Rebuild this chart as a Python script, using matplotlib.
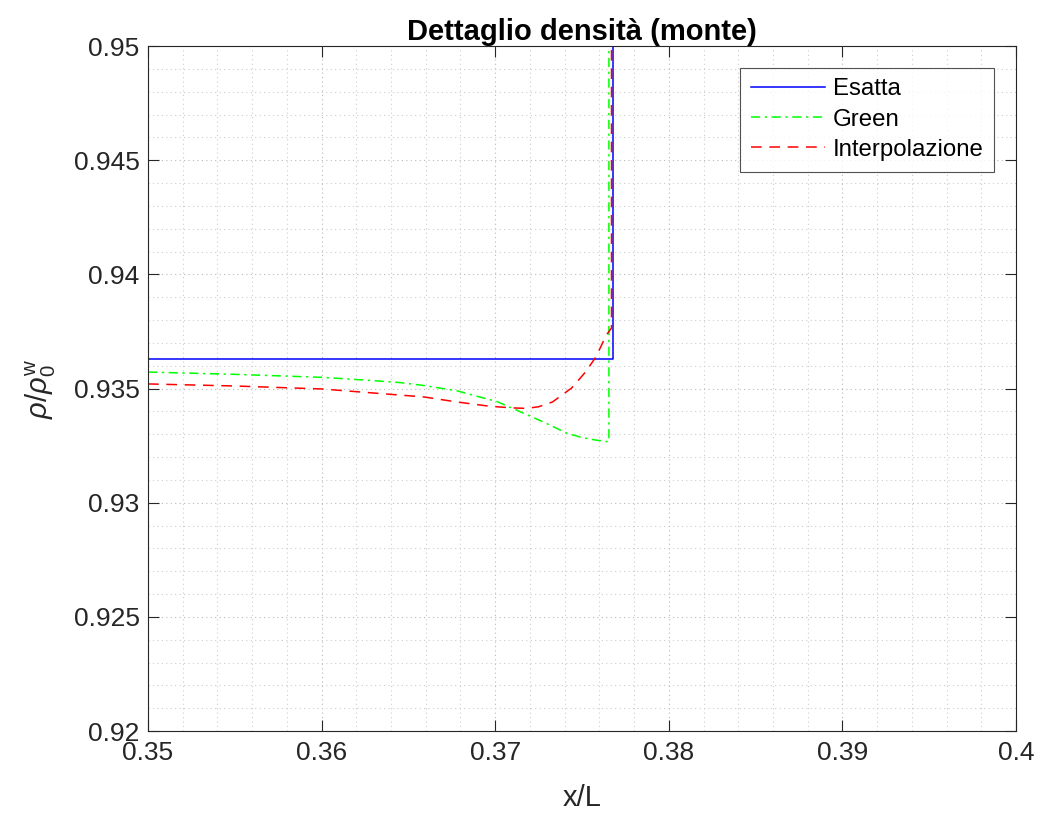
import numpy as np
import matplotlib
import matplotlib.pyplot as plt
from matplotlib.ticker import MultipleLocator, FormatStrFormatter

matplotlib.use('Agg')

plt.rcParams['font.family'] = ['Liberation Sans', 'DejaVu Sans']
plt.rcParams['mathtext.fontset'] = 'custom'
plt.rcParams['mathtext.rm'] = 'Liberation Sans'
plt.rcParams['mathtext.it'] = 'Liberation Sans:italic'

# Soluzione esatta (gradino)
x_esatta = [0.350, 0.3768, 0.3768, 0.3768]
y_esatta = [0.93629, 0.93629, 0.95, 0.97]

# Metodo di Green
x_green = [0.350, 0.355, 0.360, 0.3625, 0.3645, 0.3659, 0.3678, 0.3691, 0.3701,
           0.3716, 0.3729, 0.3741, 0.3750, 0.3758, 0.3765, 0.37655, 0.37655]
y_green = [0.93572, 0.93562, 0.93549, 0.93537, 0.93526, 0.93513, 0.93490, 0.93463, 0.93443,
           0.93393, 0.93349, 0.93305, 0.93285, 0.93274, 0.93267, 0.93267, 0.97]

# Interpolazione
x_interp = [0.350, 0.355, 0.360, 0.3659, 0.3678, 0.3695, 0.3701, 0.3710, 0.3718,
            0.3725, 0.3733, 0.3744, 0.3752, 0.3758, 0.3764, 0.3767, 0.3767]
y_interp = [0.93520, 0.93511, 0.93498, 0.93463, 0.93441, 0.93424, 0.93420, 0.93415, 0.93413,
            0.93420, 0.93441, 0.93502, 0.93572, 0.93638, 0.93734, 0.93765, 0.97]

fig = plt.figure(figsize=(10.4, 8.19), dpi=100)
ax = fig.add_axes([148 / 1040, 88 / 819, 868 / 1040, 685 / 819])

ax.plot(x_esatta, y_esatta, '-', color=(0, 0, 1), lw=1.1, label='Esatta')
ax.plot(x_green, y_green, '-.', color=(0, 1, 0), lw=1.1, label='Green',
        dashes=(6, 3, 1.5, 3))
ax.plot(x_interp, y_interp, '--', color=(1, 0, 0), lw=1.1, label='Interpolazione',
        dashes=(7, 5))

ax.set_xlim(0.35, 0.4)
ax.set_ylim(0.92, 0.95)

ax.xaxis.set_major_locator(MultipleLocator(0.01))
ax.xaxis.set_minor_locator(MultipleLocator(0.002))
ax.yaxis.set_major_locator(MultipleLocator(0.005))
ax.yaxis.set_minor_locator(MultipleLocator(0.001))
ax.xaxis.set_major_formatter(FormatStrFormatter('%g'))
ax.yaxis.set_major_formatter(FormatStrFormatter('%g'))

ax.grid(which='major', linestyle=(0, (1, 3)), color='#b8b8b8', lw=0.8)
ax.grid(which='minor', linestyle=(0, (1, 3)), color='#cccccc', lw=0.8)
ax.set_axisbelow(True)

ax.tick_params(which='major', direction='in', length=8, width=0.8, top=True, right=True,
               labelsize=19, colors='#262626')
ax.tick_params(axis='x', which='major', pad=7)
ax.tick_params(axis='y', which='major', pad=6)
ax.tick_params(which='minor', length=0, top=True, right=True)
for s in ax.spines.values():
    s.set_color('#262626')
    s.set_linewidth(0.8)

ax.set_title('Dettaglio densità (monte)', fontsize=21, fontweight='bold', pad=4)
ax.set_xlabel('x/L', fontsize=21, color='#262626', labelpad=14)
ax.set_ylabel(r'$\rho/\rho_0^{\mathrm{w}}$', fontsize=21, color='#262626', labelpad=11)

leg = ax.legend(loc='upper right', fontsize=17.3, frameon=True, fancybox=False,
                edgecolor='#262626', handlelength=3.1, handletextpad=0.3,
                borderaxespad=0.9, labelspacing=0.34, borderpad=0.45)
leg.get_frame().set_linewidth(0.8)

fig.savefig('out.png', dpi=100)
